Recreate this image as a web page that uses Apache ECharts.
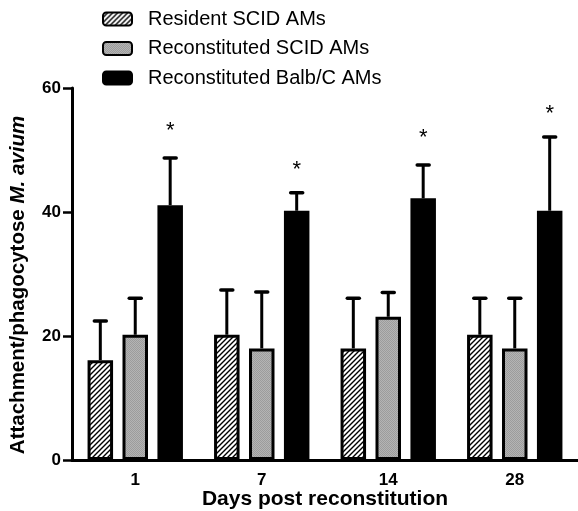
<!DOCTYPE html>
<html>
<head>
<meta charset="utf-8">
<script src="https://cdn.jsdelivr.net/npm/echarts@6/dist/echarts.min.js"></script>
<style>html,body{margin:0;padding:0;background:#fff;}#c{width:578px;height:511px;}</style>
</head>
<body>
<div id="c"></div>
<script>
const categories = ['1', '7', '14', '28'];
const seriesNames = ['Resident SCID AMs', 'Reconstituted SCID AMs', 'Reconstituted Balb/C AMs'];
const resident = [16.1, 20.2, 18.0, 20.2];
const residentErrTop = [22.4, 27.4, 26.1, 26.1];
const reconScid = [20.2, 18.0, 23.1, 18.0];
const reconScidErrTop = [26.1, 27.1, 27.0, 26.1];
const balb = [41.1, 40.2, 42.2, 40.2];
const balbErrTop = [48.7, 43.1, 47.6, 52.1];
const asteriskY = [53.9, 47.6, 52.7, 56.6];
const yTicks = [0, 20, 40, 60];

const FONT = '"Liberation Sans", Arial, Helvetica, sans-serif';
const BAR_W = 25.5;
const BAR_GAP = 0.37;
const PITCH = BAR_W * (1 + BAR_GAP);

function hatchPattern() {
  const s = 5;
  const c = document.createElement('canvas');
  c.width = s; c.height = s;
  const g = c.getContext('2d');
  g.fillStyle = '#fff';
  g.fillRect(0, 0, s, s);
  g.strokeStyle = '#000';
  g.lineWidth = 1.4;
  g.beginPath();
  g.moveTo(-1, s + 1); g.lineTo(s + 1, -1);
  g.moveTo(-1, 1); g.lineTo(1, -1);
  g.moveTo(s - 1, s + 1); g.lineTo(s + 1, s - 1);
  g.stroke();
  return c;
}
function grayPattern() {
  const c = document.createElement('canvas');
  c.width = 2; c.height = 2;
  const g = c.getContext('2d');
  g.fillStyle = '#b4b4b4'; g.fillRect(0, 0, 2, 2);
  g.fillStyle = '#9c9c9c'; g.fillRect(0, 0, 1, 1); g.fillRect(1, 1, 1, 1);
  return c;
}

function errSeries(vals, tops, idx) {
  return {
    type: 'custom',
    z: 3,
    silent: true,
    data: vals.map((v, i) => [i, v, tops[i]]),
    encode: { x: 0, y: [1, 2] },
    renderItem: function (params, api) {
      const off = (idx - 1) * PITCH;
      const p0 = api.coord([api.value(0), api.value(1)]);
      const p1 = api.coord([api.value(0), api.value(2)]);
      const x = p0[0] + off;
      return {
        type: 'group',
        children: [
          { type: 'line', shape: { x1: x, y1: p0[1], x2: x, y2: p1[1] }, style: { stroke: '#000', lineWidth: 3 } },
          { type: 'line', shape: { x1: x - 6, y1: p1[1], x2: x + 6, y2: p1[1] }, style: { stroke: '#000', lineWidth: 3.5, lineCap: 'round' } }
        ]
      };
    }
  };
}

const chart = echarts.init(document.getElementById('c'), null, { renderer: 'canvas' });
const barBase = { type: 'bar', barWidth: BAR_W, barGap: (BAR_GAP * 100) + '%', z: 2 };
chart.setOption({
  animation: false,
  textStyle: { fontFamily: FONT },
  grid: { left: 72, right: 0, top: 88, bottom: 51, containLabel: false, outerBoundsMode: 'none' },
  legend: {
    data: seriesNames,
    orient: 'vertical',
    left: 97,
    top: 4,
    itemWidth: 29,
    itemHeight: 13,
    itemGap: 9.5,
    textStyle: { fontSize: 20, color: '#000', fontFamily: FONT, padding: [0, 0, 0, 11] },
    selectedMode: false
  },
  xAxis: {
    type: 'category',
    data: categories,
    axisLine: { lineStyle: { color: '#000', width: 3 } },
    axisTick: { show: false },
    axisLabel: { fontSize: 17, fontWeight: 'bold', color: '#000', margin: 12, fontFamily: FONT },
    name: 'Days post reconstitution',
    nameLocation: 'middle',
    nameGap: 29,
    nameMoveOverlap: false,
    nameTextStyle: { fontSize: 21, fontWeight: 'bold', color: '#000', fontFamily: FONT }
  },
  yAxis: {
    type: 'value',
    min: yTicks[0],
    max: yTicks[yTicks.length - 1],
    interval: yTicks[1] - yTicks[0],
    splitLine: { show: false },
    axisLine: { show: true, lineStyle: { color: '#000', width: 3 } },
    axisTick: { show: true, length: 9, lineStyle: { color: '#000', width: 2.5 } },
    axisLabel: { fontSize: 17, fontWeight: 'bold', color: '#000', margin: 11, fontFamily: FONT },
    name: '{b|Attachment/phagocytose }{i|M. avium}',
    nameLocation: 'middle',
    nameRotate: 90,
    nameGap: 43,
    nameMoveOverlap: false,
    nameTextStyle: {
      padding: [0, 22, 0, 0],
      rich: {
        b: { fontSize: 20.5, fontWeight: 'bold', color: '#000', fontFamily: FONT },
        i: { fontSize: 20.5, fontWeight: 'bold', fontStyle: 'italic', color: '#000', fontFamily: FONT }
      }
    }
  },
  series: [
    Object.assign({}, barBase, {
      name: seriesNames[0], data: resident,
      itemStyle: { color: { image: hatchPattern(), repeat: 'repeat' }, borderColor: '#000', borderWidth: 3 }
    }),
    Object.assign({}, barBase, {
      name: seriesNames[1], data: reconScid,
      itemStyle: { color: { image: grayPattern(), repeat: 'repeat' }, borderColor: '#000', borderWidth: 3 }
    }),
    Object.assign({}, barBase, {
      name: seriesNames[2], data: balb,
      itemStyle: { color: '#000', borderColor: '#000', borderWidth: 3 }
    }),
    errSeries(resident, residentErrTop, 0),
    errSeries(reconScid, reconScidErrTop, 1),
    errSeries(balb, balbErrTop, 2),
    {
      type: 'custom',
      silent: true,
      z: 4,
      data: asteriskY.map((v, i) => [i, v]),
      encode: { x: 0, y: 1 },
      renderItem: function (params, api) {
        const p = api.coord([api.value(0), api.value(1)]);
        return {
          type: 'text',
          style: {
            text: '*', x: p[0] + PITCH, y: p[1] + 5,
            textAlign: 'center', textVerticalAlign: 'middle',
            font: '22px ' + FONT, fill: '#000'
          }
        };
      }
    }
  ]
});
</script>
</body>
</html>
